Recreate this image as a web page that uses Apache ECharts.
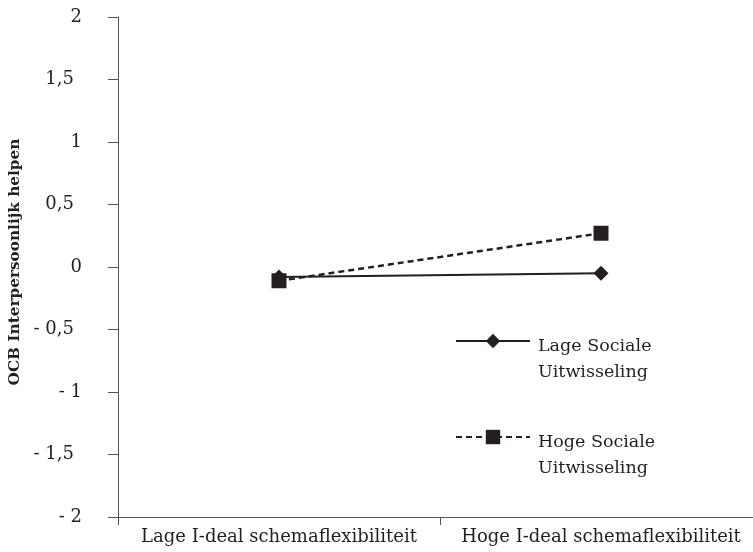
<!DOCTYPE html>
<html>
<head>
<meta charset="utf-8">
<script src="https://cdn.jsdelivr.net/npm/echarts@6/dist/echarts.min.js"></script>
<style>html,body{margin:0;padding:0;background:#fff}#c{width:753px;height:552px}</style>
</head>
<body>
<div id="c"></div>
<script>
var categories = ['Lage I-deal schemaflexibiliteit', 'Hoge I-deal schemaflexibiliteit'];
var seriesNames = ['Lage Sociale\nUitwisseling', 'Hoge Sociale\nUitwisseling'];
var lageSociale = [-0.08, -0.05];
var hogeSociale = [-0.11, 0.27];
var yAxisTitle = 'OCB Interpersoonlijk helpen';

var FONT = 'DejaVu Serif';
var INK = '#231f20';
var chart = echarts.init(document.getElementById('c'), null, {renderer: 'canvas'});
chart.setOption({
  animation: false,
  backgroundColor: '#fff',
  grid: {left: 118, top: 17, bottom: 35, width: 644, containLabel: false, outerBoundsMode: 'none'},
  legend: {
    orient: 'vertical',
    left: 450,
    top: 292,
    itemWidth: 74,
    itemHeight: 18,
    itemGap: 12,
    selectedMode: false,
    data: seriesNames,
    formatter: function (name) {
      return '{s| }\n' + name.split('\n').map(function (l) { return '{t|' + l + '}'; }).join('\n');
    },
    textStyle: {
      fontFamily: FONT, fontSize: 17.5, color: INK,
      rich: {
        s: {height: 36, lineHeight: 36, fontSize: 10},
        t: {fontFamily: FONT, fontSize: 17.5, color: INK, lineHeight: 26, padding: [0, 0, 0, 3]}
      }
    }
  },
  xAxis: {
    type: 'category',
    data: categories,
    boundaryGap: true,
    axisLine: {onZero: false, lineStyle: {color: '#555', width: 1}},
    axisTick: {show: true, length: 8, lineStyle: {color: '#555'}},
    axisLabel: {fontFamily: FONT, fontSize: 18, color: INK, margin: 11, interval: 0, hideOverlap: false}
  },
  yAxis: {
    type: 'value',
    min: -2, max: 2, interval: 0.5,
    name: yAxisTitle,
    nameLocation: 'middle',
    nameGap: 94,
    nameRotate: 90,
    nameTextStyle: {fontFamily: FONT, fontSize: 15.3, fontWeight: 'bold', color: INK, padding: [0, 0, 0, 10]},
    splitLine: {show: false},
    axisLine: {show: true, lineStyle: {color: '#555', width: 1}},
    axisTick: {show: true, length: 10, lineStyle: {color: '#555'}},
    axisLabel: {
      fontFamily: FONT, fontSize: 18, color: INK, margin: 36,
      formatter: function (v) {
        var s = String(Math.abs(v)).replace('.', ',');
        if (v < 0) s = '- ' + s;
        return Number.isInteger(v) ? s : '{d|' + s + '}';
      },
      rich: {d: {fontFamily: FONT, fontSize: 18, color: INK, padding: [0, 8, 0, 0]}}
    }
  },
  series: [
    {
      name: seriesNames[0], type: 'line', data: lageSociale,
      symbol: 'diamond', symbolSize: 15,
      lineStyle: {color: INK, width: 2, type: 'solid'},
      itemStyle: {color: INK}
    },
    {
      name: seriesNames[1], type: 'line', data: hogeSociale,
      symbol: 'rect', symbolSize: 15,
      lineStyle: {color: INK, width: 2.5, type: [6, 4]},
      itemStyle: {color: INK}
    }
  ]
});
</script>
</body>
</html>
